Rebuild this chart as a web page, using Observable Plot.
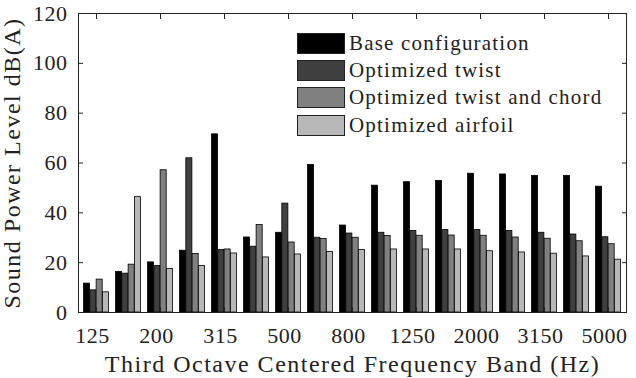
<!DOCTYPE html>
<html><head><meta charset="utf-8">
<script src="https://cdn.jsdelivr.net/npm/d3@7"></script>
<script src="https://cdn.jsdelivr.net/npm/@observablehq/plot@0.6"></script>
<style>
body{margin:0;background:#fff;}
#chart{position:relative;width:636px;height:378px;font-family:"Liberation Serif",serif;}
.legend{position:absolute;left:297px;top:30px;}
.row{display:flex;align-items:center;height:27.2px;}
.sw{width:46px;height:19px;border:1.2px solid #222;margin-right:4px;box-sizing:content-box;}
.lt{font-size:21px;letter-spacing:1.2px;color:#222;white-space:nowrap;}
</style></head><body><div id="chart"></div>
<script>
const bands = ["125","160","200","250","315","400","500","630","800","1000","1250","1600","2000","2500","3150","4000","5000"];
const tickBands = ["125","200","315","500","800","1250","2000","3150","5000"];
const yTicks = [0,20,40,60,80,100,120];
const seriesNames = ["Base configuration","Optimized twist","Optimized twist and chord","Optimized airfoil"];
const seriesColors = ["#000000","#404040","#808080","#b8b8b8"];
const base    = [11.6,16.3,20.1,24.8,71.5,30.1,32.0,59.2,34.9,50.9,52.3,52.8,55.7,55.4,54.8,54.8,50.5];
const twist   = [8.9,15.6,18.7,61.9,25.1,26.4,43.7,30.0,31.7,32.0,32.7,33.1,33.1,32.7,32.0,31.3,30.2];
const chord   = [13.2,19.2,57.1,23.5,25.3,35.1,28.1,29.5,30.0,30.7,30.8,30.9,30.8,30.1,29.6,28.6,27.4];
const airfoil = [8.1,46.3,17.5,18.7,23.7,22.1,23.3,24.3,25.1,25.3,25.3,25.3,24.6,24.1,23.6,22.5,21.2];
const xLabel = "Third Octave Centered Frequency Band (Hz)";
const yLabel = "Sound Power Level dB(A)";

const seriesValues = [base, twist, chord, airfoil];
const rows = seriesValues.flatMap((vals, i) => vals.map((v, j) => ({band: bands[j], series: seriesNames[i], value: v})));

const W = 636, H = 378, ML = 78, MR = 10, MT = 13, MB = 66;
const step = (W - ML - MR) / bands.length;
const barW = 6.3;
const inset = (step - barW) / 2;
const textColor = "#222";

const barMarks = seriesNames.map((s, i) => Plot.barY(rows.filter(r => r.series === s), {
  x: "band", y: "value", fill: "series", stroke: "#000", strokeWidth: 0.8,
  insetLeft: inset, insetRight: inset, dx: (i - 1.5) * barW
}));

const chart = Plot.plot({
  width: W, height: H,
  marginLeft: ML, marginRight: MR, marginTop: MT, marginBottom: MB,
  style: {fontFamily: "Liberation Serif", fontSize: "22px", color: textColor, background: "#fff"},
  x: {type: "band", domain: bands, padding: 0},
  y: {domain: [0, 120]},
  color: {domain: seriesNames, range: seriesColors},
  marks: [
    ...barMarks,
    Plot.frame({stroke: "#222", strokeWidth: 1}),
    Plot.axisY(yTicks, {anchor: "left", tickSize: 0, tickPadding: 11, fontSize: 22, label: null}),
    Plot.axisY(yTicks, {anchor: "left", tickSize: -5, tickFormat: () => "", label: null, stroke: "#222"}),
    Plot.axisY(yTicks, {anchor: "right", tickSize: -5, tickFormat: () => "", label: null, stroke: "#222"}),
    Plot.axisX(tickBands, {anchor: "bottom", tickSize: 0, tickPadding: 15, fontSize: 22, dx: -4, label: null}),
    Plot.axisX(tickBands, {anchor: "bottom", tickSize: -5, tickFormat: () => "", label: null, stroke: "#222"}),
    Plot.axisX(tickBands, {anchor: "top", tickSize: -5, tickFormat: () => "", label: null, stroke: "#222"}),
    Plot.text([xLabel], {text: d => d, frameAnchor: "bottom", textAnchor: "middle", dy: 52, fontSize: 24, lineAnchor: "middle", fill: textColor}),
    Plot.text([yLabel], {text: d => d, frameAnchor: "left", textAnchor: "middle", dx: -66, rotate: -90, fontSize: 24, lineAnchor: "middle", fill: textColor})
  ]
});

// letter spacing to approximate the wider LaTeX face
chart.querySelectorAll("text").forEach(t => {
  const s = t.textContent;
  if (s === xLabel || s === yLabel) t.setAttribute("letter-spacing", "1.5");
  else if (/^\d+$/.test(s)) t.setAttribute("letter-spacing", "0.5");
});

const container = document.getElementById("chart");
container.appendChild(chart);
const legend = document.createElement("div");
legend.className = "legend";
seriesNames.forEach((s, i) => {
  const row = document.createElement("div"); row.className = "row";
  const sw = document.createElement("div"); sw.className = "sw"; sw.style.background = seriesColors[i];
  const t = document.createElement("span"); t.className = "lt"; t.textContent = s;
  row.appendChild(sw); row.appendChild(t); legend.appendChild(row);
});
container.appendChild(legend);
</script></body></html>
